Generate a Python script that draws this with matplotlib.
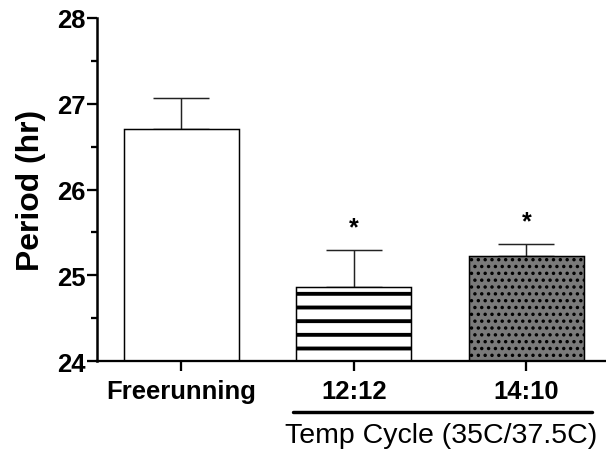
import matplotlib
matplotlib.use("Agg")
import matplotlib.pyplot as plt
import matplotlib.transforms as mtransforms
from matplotlib.ticker import MultipleLocator

# Period under freerunning vs temperature cycles

# -----------------------------------------
# Data
# -----------------------------------------
groups = ["Freerunning", "12:12", "14:10"]
period = [26.70, 24.86, 25.23]
sem = [0.37, 0.44, 0.14]
significant = [False, True, True]
bracket_label = "Temp Cycle (35C/37.5C)"

# -----------------------------------------
# Styles
# -----------------------------------------
plt.rcParams['font.family'] = ['Liberation Sans', 'DejaVu Sans']
dpi = 82
fig = plt.figure(figsize=(606 / dpi, 452 / dpi), dpi=dpi)
ax = fig.add_axes([0.160, 0.199, 0.838, 0.759])

faces = ["white", "white", "#7a7a7a"]
hatches = [None, "-", ".."]
hatch_lws = [1.0, 3.4, 1.8]

x = list(range(len(groups)))
for i in x:
    with plt.rc_context({'hatch.linewidth': hatch_lws[i]}):
        ax.bar(x[i], period[i] - 24, bottom=24, width=0.667,
               color=faces[i], edgecolor="black", linewidth=1.3,
               hatch=hatches[i], zorder=2)

ax.errorbar(x, period, yerr=[[0] * len(sem), sem], fmt="none",
            ecolor="#222222", elinewidth=1.3, capsize=25, capthick=1.3,
            zorder=1)

for i in x:
    if significant[i]:
        ax.text(x[i], period[i] + sem[i] + 0.18, "*", ha="center",
                va="baseline", fontsize=22, fontweight="bold")

# -----------------------------------------
# Axes
# -----------------------------------------
ax.set_xlim(-0.49, 2.455)
ax.set_ylim(24, 28)
ax.yaxis.set_major_locator(MultipleLocator(1))
ax.yaxis.set_minor_locator(MultipleLocator(0.5))
ax.set_xticks(x)
ax.set_xticklabels(groups, fontsize=22.5, fontweight="bold")
for lab in ax.get_yticklabels():
    lab.set_fontsize(22.5)
    lab.set_fontweight("bold")
ax.tick_params(axis="y", which="major", length=9, width=2, pad=1)
ax.tick_params(axis="y", which="minor", length=5, width=2)
ax.tick_params(axis="x", which="major", length=9, width=2, pad=7)

for side in ["top", "right"]:
    ax.spines[side].set_visible(False)
ax.spines["left"].set_linewidth(2.2)
ax.spines["bottom"].set_linewidth(2.0)

ax.set_ylabel("Period (hr)", fontsize=28, fontweight="bold", labelpad=10)

# Bracket under the temp cycle groups
trans = mtransforms.blended_transform_factory(ax.transData, ax.transAxes)
ax.plot([0.646, 2.38], [-0.149, -0.149], color="black", lw=3,
        transform=trans, clip_on=False, solid_capstyle="round")
ax.text(1.504, -0.178, bracket_label, transform=trans, ha="center",
        va="top", fontsize=25)

fig.savefig("out.png", dpi=dpi)
